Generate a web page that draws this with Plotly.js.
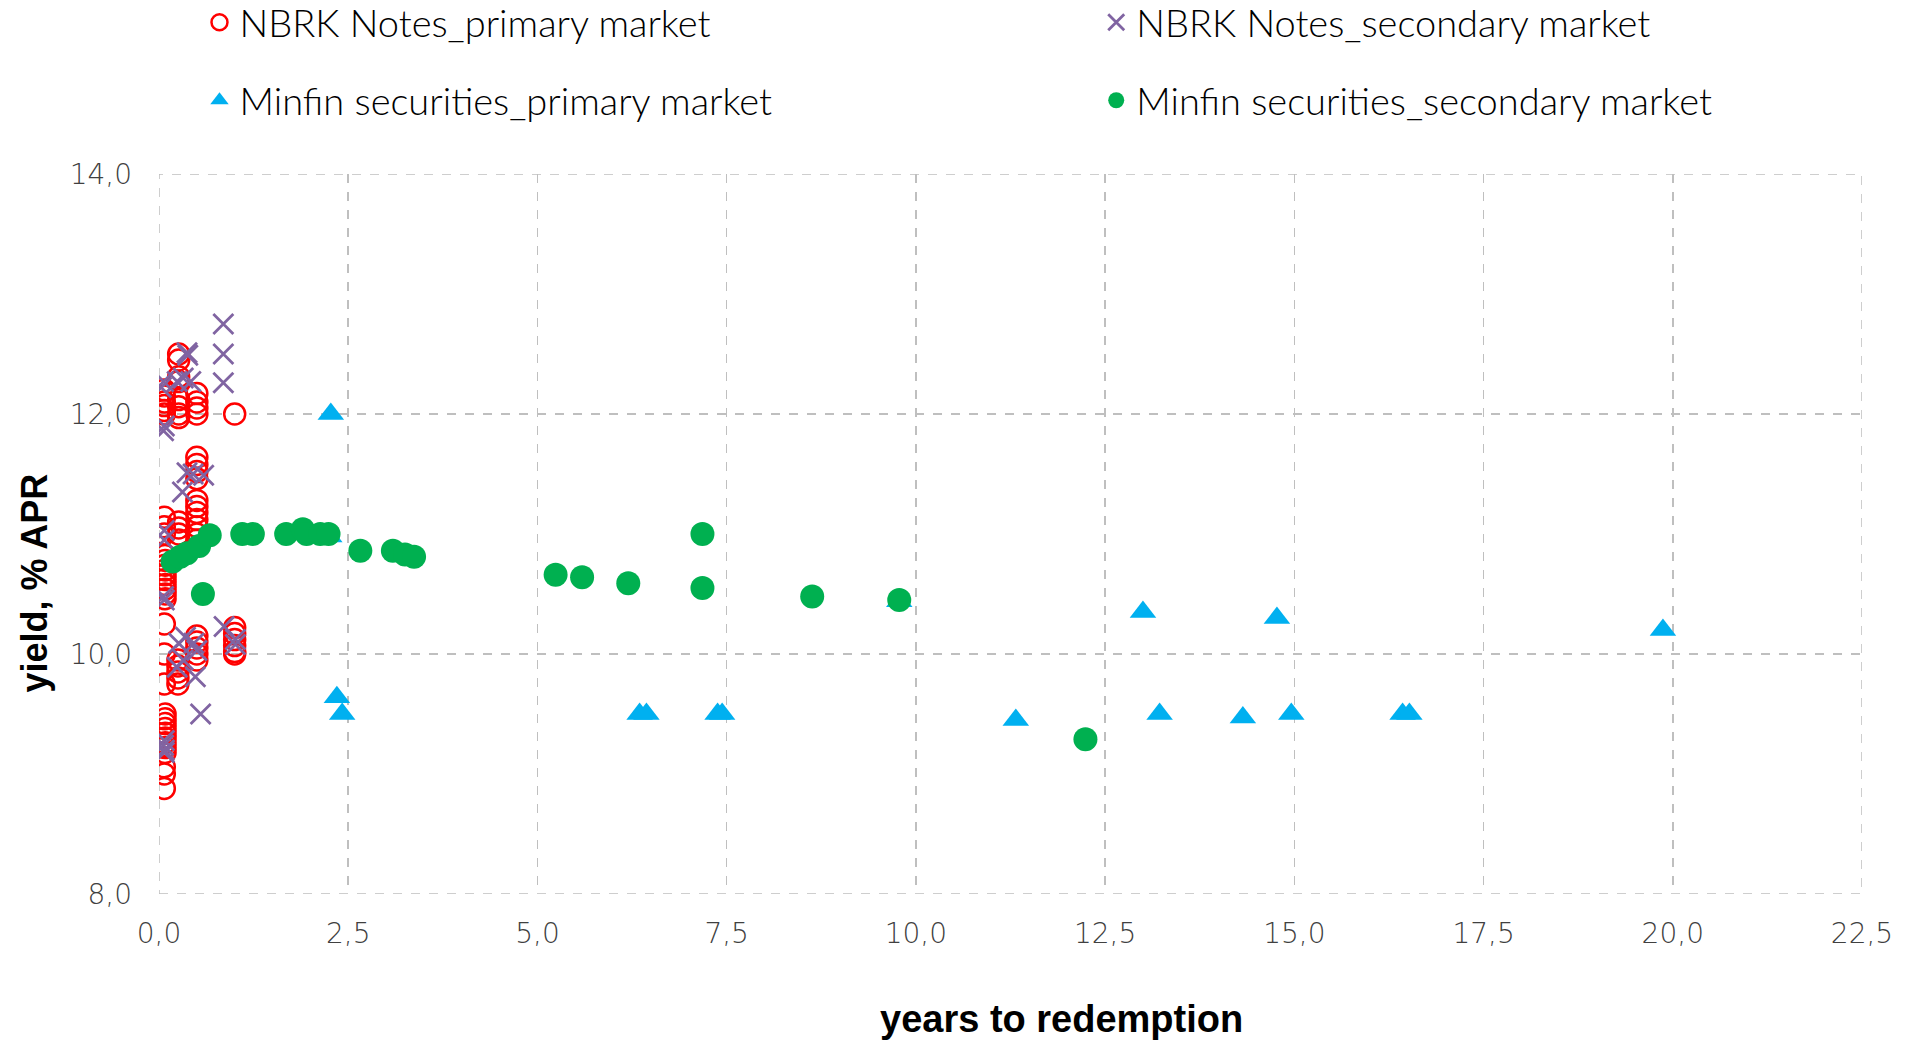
<!DOCTYPE html>
<html>
<head>
<meta charset="utf-8">
<script src="https://cdn.plot.ly/plotly-3.0.1.min.js"></script>
<style>html,body{margin:0;padding:0;background:#fff;}#chart{width:1912px;height:1041px;}</style>
</head>
<body>
<div id="chart"></div>
<script>
// NBRK Notes, primary market
const nbrkPrimX = [0.07,0.07,0.07,0.07,0.07,0.07,0.07,0.07,0.07,0.08,0.08,0.08,0.08,0.08,0.08,0.08,0.08,0.08,0.08,0.07,0.07,0.07,0.08,0.08,0.08,0.08,0.08,0.08,0.08,0.08,0.08,0.07,0.07,0.07,
  0.26,0.26,0.26,0.26,0.26,0.26,0.26,0.26,0.26,0.26,0.26,0.26,0.25,0.25,0.25,0.25,0.25,
  0.5,0.5,0.5,0.5,0.5,0.5,0.5,0.5,0.5,0.5,0.5,0.5,0.5,0.5,0.5,0.5,0.5,0.5,0.5,0.5,
  1.0,1.0,1.0,1.0,1.0,1.0,1.0];
const nbrkPrimY = [12.2,12.15,12.1,12.07,12.03,12.0,11.14,11.06,11.0,10.82,10.78,10.74,10.7,10.66,10.62,10.58,10.54,10.5,10.46,10.25,10.0,9.75,9.5,9.46,9.42,9.38,9.34,9.3,9.26,9.22,9.18,9.06,9.0,8.88,
  12.5,12.45,12.31,12.27,12.12,12.06,12.0,11.97,11.1,11.05,11.0,10.95,9.95,9.9,9.85,9.8,9.75,
  12.17,12.1,12.05,12.0,11.64,11.58,11.52,11.46,11.28,11.23,11.18,11.12,11.06,11.0,10.95,10.15,10.1,10.05,10.0,9.95,
  12.0,10.22,10.17,10.12,10.07,10.02,10.0];

// NBRK Notes, secondary market
const nbrkSecX = [0.85,0.85,0.85,0.37,0.38,0.06,0.07,0.06,0.07,0.07,0.06,0.07,0.07,0.06,0.07,0.07,0.24,0.42,0.32,0.03,
  0.37,0.45,0.59,0.31,0.86,1.01,1.01,0.35,0.26,0.46,0.5,0.24,0.32,0.48,0.55];
const nbrkSecY = [12.75,12.5,12.26,12.51,12.49,12.27,11.9,11.86,11.03,10.95,10.48,10.45,9.28,9.24,9.2,9.18,12.27,12.27,12.3,12.22,
  11.51,11.5,11.49,11.35,10.23,10.12,10.08,10.14,10.09,10.09,10.03,9.89,9.95,9.81,9.5];

// Minfin securities, primary market
const minPrimX = [2.27,2.25,2.35,2.42,6.35,6.44,7.38,7.44,9.78,11.32,13.0,13.22,14.32,14.77,14.96,16.43,16.52,19.87];
const minPrimY = [12.0,10.98,9.64,9.5,9.5,9.5,9.5,9.5,10.44,9.45,10.35,9.5,9.47,10.3,9.5,9.5,9.5,10.2];

// Minfin securities, secondary market
const minSecX = [0.18,0.28,0.37,0.53,0.67,0.58,1.10,1.24,1.68,1.90,1.95,2.13,2.24,2.66,3.09,3.25,3.37,5.24,5.59,6.20,7.18,7.18,8.63,9.78,12.24];
const minSecY = [10.77,10.81,10.84,10.90,10.99,10.50,11.0,11.0,11.0,11.04,11.0,11.0,11.0,10.86,10.86,10.83,10.81,10.66,10.64,10.59,11.0,10.55,10.48,10.45,9.29];

const seriesNames = ['NBRK Notes_primary market','NBRK Notes_secondary market','Minfin securities_primary market','Minfin securities_secondary market'];
const xTitle = 'years to redemption';
const yTitle = 'yield, % APR';
const xRange = [0, 22.5];
const yRange = [8, 14];

const legendFont = {family:'Lato, "DejaVu Sans", sans-serif', size:38, color:'#000', weight:300};
const tickFont = {family:'"DejaVu Sans", sans-serif', size:28, color:'#404040', weight:200};
const titleFontX = {family:'"Liberation Sans", Arial, sans-serif', size:38, color:'#000', weight:'bold'};
const titleFontY = {family:'"Liberation Sans", Arial, sans-serif', size:36, color:'#000', weight:'bold'};

const traces = [
  {x:nbrkPrimX, y:nbrkPrimY, name:seriesNames[0], type:'scatter', mode:'markers', legend:'legend',
   marker:{symbol:'circle-open', size:21, color:'#FF0000', line:{width:2.5, color:'#FF0000'}}},
  {x:nbrkSecX, y:nbrkSecY, name:seriesNames[1], type:'scatter', mode:'markers', legend:'legend2',
   marker:{symbol:'x-thin-open', size:20, color:'#8064A2', line:{width:2.8, color:'#8064A2'}}},
  {x:minPrimX, y:minPrimY, name:seriesNames[2], type:'scatter', mode:'markers', legend:'legend3',
   marker:{symbol:'triangle-up', size:23, color:'#00B0F0'}},
  {x:minSecX, y:minSecY, name:seriesNames[3], type:'scatter', mode:'markers', legend:'legend4',
   marker:{symbol:'circle', size:24, color:'#00B050'}}
];

const gridStyle = {showgrid:true, gridcolor:'#BFBFBF', gridwidth:1.5, griddash:'dash', zeroline:false, showline:false, ticks:'', tickfont:tickFont};

function leg(x, y) {
  return {orientation:'h', x:x, y:y, xanchor:'left', yanchor:'middle', font:legendFont,
    bgcolor:'rgba(0,0,0,0)', itemwidth:30};
}
const col1 = (199-158.5)/1703.5, col2 = (1096-158.5)/1703.5;
const row1 = (893.8-23)/719.4, row2 = (893.8-101)/719.4;

const layout = {
  width:1912, height:1041,
  margin:{l:158.5, r:50, t:174, b:147, autoexpand:false},
  paper_bgcolor:'#fff', plot_bgcolor:'#fff',
  separators:', ',
  showlegend:true,
  xaxis:Object.assign({}, gridStyle, {range:xRange, tick0:0, dtick:2.5, tickformat:'.1f', ticklabelstandoff:20}),
  yaxis:Object.assign({}, gridStyle, {range:yRange, tick0:8, dtick:2, tickformat:'.1f', ticklabelstandoff:26}),
  legend:leg(col1, row1),
  legend2:leg(col2, row1),
  legend3:leg(col1, row2),
  legend4:leg(col2, row2),
  shapes:[
    {type:'rect', xref:'x', yref:'y', x0:xRange[0], x1:xRange[1], y0:yRange[0], y1:yRange[1], layer:'below',
     line:{color:'#BFBFBF', width:1.5, dash:'dash'}}
  ],
  annotations:[
    {text:xTitle, xref:'paper', yref:'paper', x:(1061-158.5)/1703.5, y:-(1019-893.8)/719.4, xanchor:'center', yanchor:'middle', showarrow:false, font:titleFontX},
    {text:yTitle, xref:'paper', yref:'paper', x:(34-158.5)/1703.5, y:(893.8-583)/719.4, xanchor:'center', yanchor:'middle', textangle:-90, showarrow:false, font:titleFontY}
  ]
};

Plotly.newPlot('chart', traces, layout, {displayModeBar:false, staticPlot:true});
</script>
</body>
</html>
